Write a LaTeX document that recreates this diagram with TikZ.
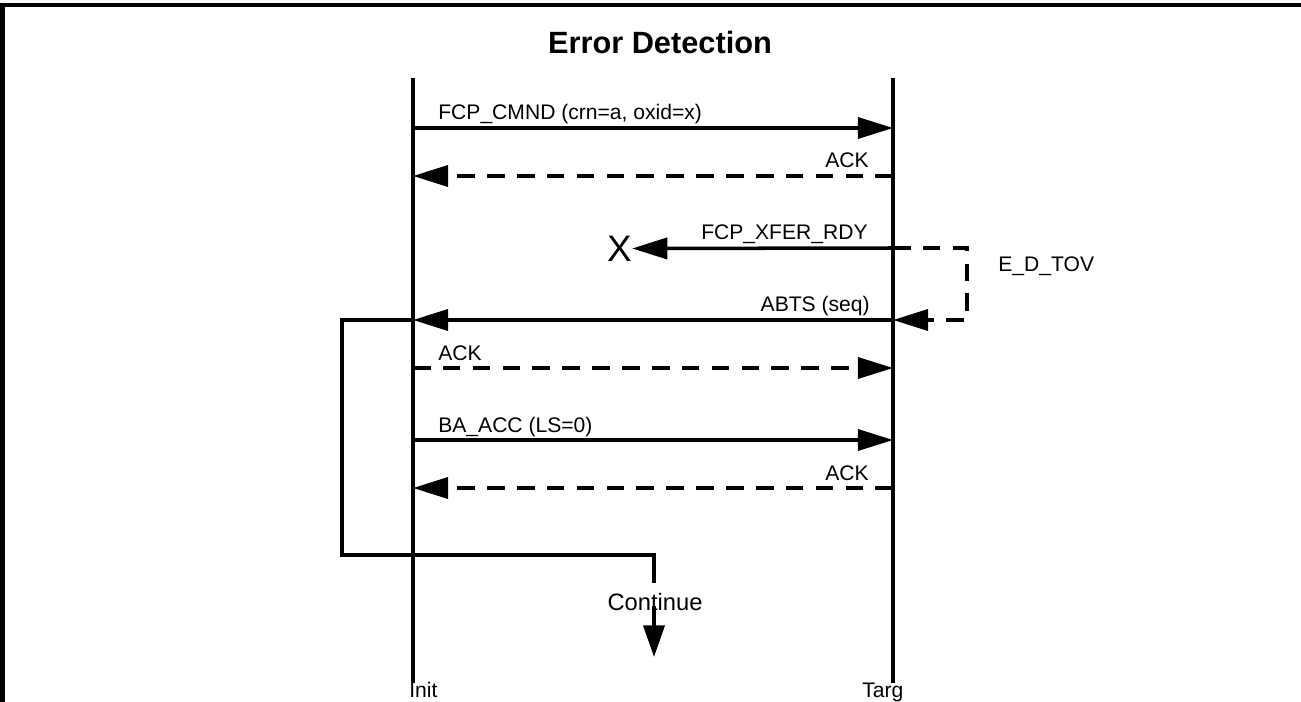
\documentclass[tikz,border=0pt]{standalone}
\usepackage{fontspec}
\setmainfont{Liberation Sans}
\usetikzlibrary{arrows.meta}
\begin{document}
\begin{tikzpicture}[x=0.02cm,y=-0.02cm,
  wire/.style={line width=2pt},
  msg/.style={wire,-{Triangle[length=20pt,width=12pt]}},
  acksig/.style={msg,dash pattern=on 10pt off 7pt},
  lbl/.style={inner sep=0pt,font=\fontsize{12}{14}\selectfont},
]
\useasboundingbox (0,0) rectangle (1301,702);

% frame (top and left edges)
\draw[line width=2.3pt] (2.5,702) -- (2.5,5) -- (1301,5);

% title
\node[inner sep=0pt,anchor=base,font=\bfseries\fontsize{17.5}{21}\selectfont] (title) at (660,54) {Error Detection};

% lifelines
\coordinate (iT) at (413,78);  \coordinate (iB) at (413,683);
\coordinate (tT) at (893,78);  \coordinate (tB) at (893,683);
\draw[wire] (iT) -- (iB);
\draw[wire] (tT) -- (tB);
\node[lbl,anchor=base west] (init) at (409,697) {Init};
\node[lbl,anchor=base west] (targ) at (862,697) {Targ};

% message end points on both lifelines
\coordinate (i1) at (413,128); \coordinate (t1) at (893,128);
\coordinate (i2) at (413,176); \coordinate (t2) at (893,176);
\coordinate (t3) at (893,248);
\coordinate (i4) at (413,320); \coordinate (t4) at (893,320);
\coordinate (i5) at (413,368); \coordinate (t5) at (893,368);
\coordinate (i6) at (413,440); \coordinate (t6) at (893,440);
\coordinate (i7) at (413,488); \coordinate (t7) at (893,488);

% FCP_CMND
\draw[msg] (i1) -- (t1);
\node[lbl,anchor=base west] (m1) at (438,120) {FCP\_CMND (crn=a, oxid=x)};
% ACK
\draw[acksig] (t2) -- (i2);
\node[lbl,anchor=base east] (m2) at (869,168) {ACK};
% lost FCP_XFER_RDY
\node[inner sep=0pt,font=\fontsize{21}{24}\selectfont] (lost) at (619.5,248.5) {X};
\draw[msg] (t3) -- (lost.east);
\node[lbl,anchor=base east] (m3) at (868,240) {FCP\_XFER\_RDY};
% E_D_TOV timeout
\coordinate (tovA) at (967,248); \coordinate (tovB) at (967,320);
\draw[acksig] (t3) -- (tovA) -- (tovB) -- (t4);
\node[lbl,anchor=base west] (tov) at (998,272) {E\_D\_TOV};
% ABTS
\draw[msg] (t4) -- (i4);
\node[lbl,anchor=base east] (m4) at (870,312) {ABTS (seq)};
% ACK
\draw[acksig] (i5) -- (t5);
\node[lbl,anchor=base west] (m5) at (438,360) {ACK};
% BA_ACC
\draw[msg] (i6) -- (t6);
\node[lbl,anchor=base west] (m6) at (438,432) {BA\_ACC (LS=0)};
% ACK
\draw[acksig] (t7) -- (i7);
\node[lbl,anchor=base east] (m7) at (869,480) {ACK};

% recovery loop to continuation
\coordinate (lpA) at (342,320); \coordinate (lpB) at (342,555);
\coordinate (lpC) at (654,555); \coordinate (lpD) at (654,583);
\draw[wire] (i4) -- (lpA) -- (lpB) -- (lpC) -- (lpD);
\node[inner sep=0pt,font=\fontsize{13.5}{16}\selectfont] (cont) at (655,602) {Continue};
\coordinate (cA) at (654,606); \coordinate (cEnd) at (654,657);
\draw[wire,-{Triangle[length=18pt,width=12pt]}] (cA) -- (cEnd);
\end{tikzpicture}
\end{document}
